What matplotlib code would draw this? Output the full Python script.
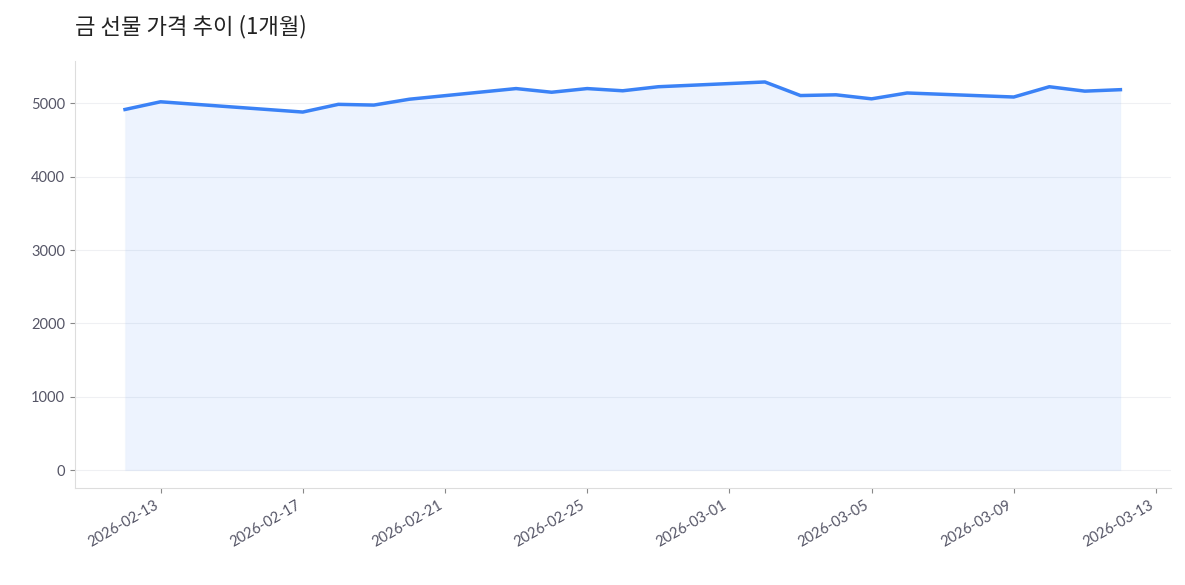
import matplotlib
matplotlib.use('Agg')
import matplotlib.pyplot as plt
import matplotlib.dates as mdates
import pandas as pd

plt.rcParams['font.family'] = ['Noto Sans CJK KR', 'DejaVu Sans']

# 데이터
dates = pd.to_datetime([
    '2026-02-12', '2026-02-13', '2026-02-17', '2026-02-18', '2026-02-19',
    '2026-02-20', '2026-02-23', '2026-02-24', '2026-02-25', '2026-02-26',
    '2026-02-27', '2026-03-02', '2026-03-03', '2026-03-04', '2026-03-05',
    '2026-03-06', '2026-03-09', '2026-03-10', '2026-03-11', '2026-03-12',
])
prices = [4915, 5020, 4880, 4985, 4975, 5055, 5200, 5150, 5200, 5170,
          5225, 5290, 5105, 5115, 5060, 5140, 5085, 5225, 5165, 5185]
title = '금 선물 가격 추이 (1개월)'

fig, ax = plt.subplots(figsize=(11.85, 5.85), dpi=100)
ax.plot(dates, prices, color='#3b82f6', linewidth=2.5)
ax.fill_between(dates, prices, 0, color='#3b82f6', alpha=0.09, edgecolor='#c7dbfb')

ax.set_title(title, loc='left', fontsize=16, color='#222222', pad=20)
ax.set_ylim(-250, 5570)
ax.set_yticks([0, 1000, 2000, 3000, 4000, 5000])
ax.xaxis.set_major_locator(mdates.DayLocator(bymonthday=[1, 5, 9, 13, 17, 21, 25]))
ax.xaxis.set_major_formatter(mdates.DateFormatter('%Y-%m-%d'))
ax.set_xlim(pd.Timestamp('2026-02-10 14:00'), pd.Timestamp('2026-03-13 10:00'))
plt.setp(ax.get_xticklabels(), rotation=30, ha='right', family='Lato')
plt.setp(ax.get_yticklabels(), family='Lato')

ax.grid(axis='y', color='#e5e7eb', alpha=0.6)
ax.set_axisbelow(True)
for s in ['top', 'right']:
    ax.spines[s].set_visible(False)
for s in ['left', 'bottom']:
    ax.spines[s].set_color('#dddddd')
ax.tick_params(colors='#555566', labelsize=10.5)
ax.tick_params(axis='both', color='#888888')

plt.subplots_adjust(left=0.063, right=0.988, top=0.895, bottom=0.165)
plt.savefig('out.png')
